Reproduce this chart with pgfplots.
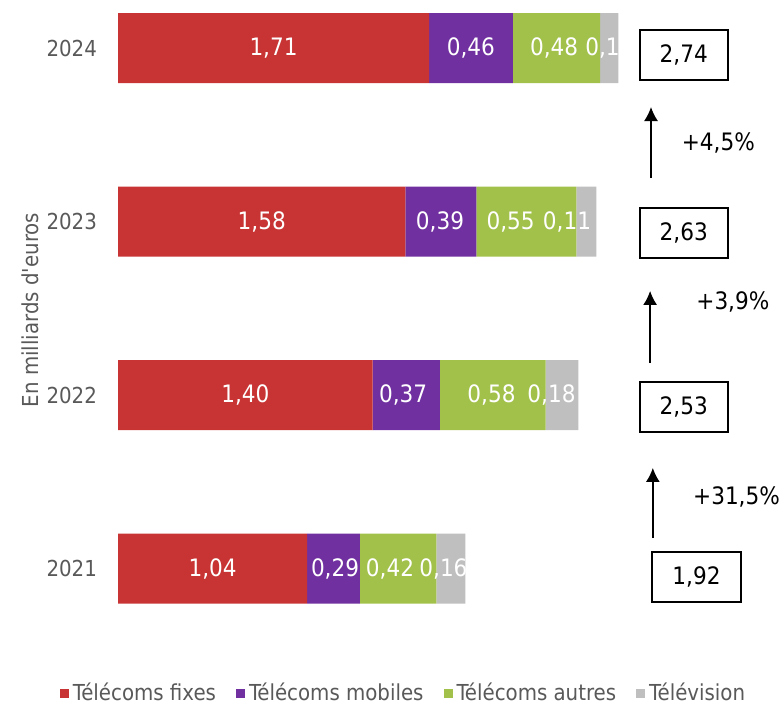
\documentclass[border=0pt]{standalone}
\usepackage{fontspec}
\setmainfont{DejaVu Sans Condensed}
\usepackage{pgfplots}
\pgfplotsset{compat=1.18}
\usetikzlibrary{arrows.meta}
\definecolor{cfix}{HTML}{C83434}
\definecolor{cmob}{HTML}{7030A0}
\definecolor{caut}{HTML}{A2C14B}
\definecolor{ctv}{HTML}{BFBFBF}
\definecolor{txtgray}{HTML}{595959}
\newcommand{\lf}{\fontsize{11}{13}\selectfont}
\newcommand{\vf}{\fontsize{12}{14}\selectfont}
\begin{document}
\begin{tikzpicture}
\begin{axis}[
  x=90.95pt, y=86.75pt,
  xmin=0, xmax=3.5, ymin=-0.5, ymax=3.2767,
  xbar stacked, bar width=35pt,
  axis line style={draw=none},
  xtick=\empty,
  ytick={0,1,2,3}, yticklabels={2021,2022,2023,2024},
  major tick length=0pt,
  yticklabel style={text=txtgray, font=\lf, xshift=-7pt},
  ylabel={En milliards d\textquotesingle euros},
  ylabel style={at={(axis description cs:-0.138,0.527)}, anchor=center, text=txtgray, font=\lf},
  legend style={at={(0.45,-0.0576)}, anchor=center, legend columns=4, draw=none,
    font=\lf, text=txtgray, /tikz/every even column/.append style={column sep=8pt}},
  legend image code/.code={\fill[#1] (0pt,-2.25pt) rectangle (4.5pt,2.25pt);},
  clip=false,
]
\addplot[fill=cfix, draw=none] coordinates {(1.04,0) (1.40,1) (1.58,2) (1.71,3)};
\addplot[fill=cmob, draw=none] coordinates {(0.29,0) (0.37,1) (0.39,2) (0.46,3)};
\addplot[fill=caut, draw=none] coordinates {(0.42,0) (0.58,1) (0.55,2) (0.48,3)};
\addplot[fill=ctv, draw=none] coordinates {(0.16,0) (0.18,1) (0.11,2) (0.10,3)};
\legend{Télécoms fixes, Télécoms mobiles, Télécoms autres, Télévision}
\coordinate (bl) at (axis cs:-0.6487,-0.798);
\coordinate (tr) at (axis cs:3.650,3.2767);
\end{axis}
\begin{axis}[
  x=90.95pt, y=86.75pt,
  xmin=0, xmax=3.5, ymin=-0.5, ymax=3.2767,
  hide axis, clip=false,
]
% segment value labels
\addplot[draw=none, mark=none, nodes near coords, point meta=explicit symbolic,
  every node near coord/.append style={anchor=center, text=white, font=\vf}]
  table[meta=lab] {
x y lab
0.52 0 1,04
1.193 0 0,29
1.495 0 0,42
1.789 0 0,16
0.70 1 1,40
1.567 1 0,37
2.053 1 0,58
2.383 1 0,18
0.79 2 1,58
1.770 2 0,39
2.158 2 0,55
2.468 2 0,11
0.855 3 1,71
1.94 3 0,46
2.397 3 0,48
};
% clipped television label 2024
\addplot[draw=none, mark=none, nodes near coords, point meta=explicit symbolic,
  every node near coord/.append style={anchor=west, inner sep=0pt, text=white, font=\vf}]
  table[meta=lab] {
x y lab
2.567 3 0,1
};
% totals
\addplot[draw=none, mark=none, nodes near coords, point meta=explicit symbolic,
  every node near coord/.append style={anchor=center, text=black, font=\vf,
    draw=black, line width=1pt, minimum width=44pt, minimum height=25pt}]
  table[meta=lab] {
x y lab
3.18 -0.049 1,92
3.11 0.931 2,53
3.11 1.934 2,63
3.11 2.96 2,74
};
% growth rates
\addplot[draw=none, mark=none, nodes near coords, point meta=explicit symbolic,
  every node near coord/.append style={anchor=center, text=black, font=\vf}]
  table[meta=lab] {
x y lab
3.40 0.412 +31,5\%
3.38 1.536 +3,9\%
3.30 2.45 +4,5\%
};
\draw[-{Latex[length=7pt,width=7pt]}, line width=0.8pt] (axis cs:2.94,0.176) -- (axis cs:2.94,0.58);
\draw[-{Latex[length=7pt,width=7pt]}, line width=0.8pt] (axis cs:2.925,1.184) -- (axis cs:2.925,1.60);
\draw[-{Latex[length=7pt,width=7pt]}, line width=0.8pt] (axis cs:2.93,2.25) -- (axis cs:2.93,2.66);
\end{axis}
\pgfresetboundingbox
\path (bl) rectangle (tr);
\end{tikzpicture}
\end{document}
